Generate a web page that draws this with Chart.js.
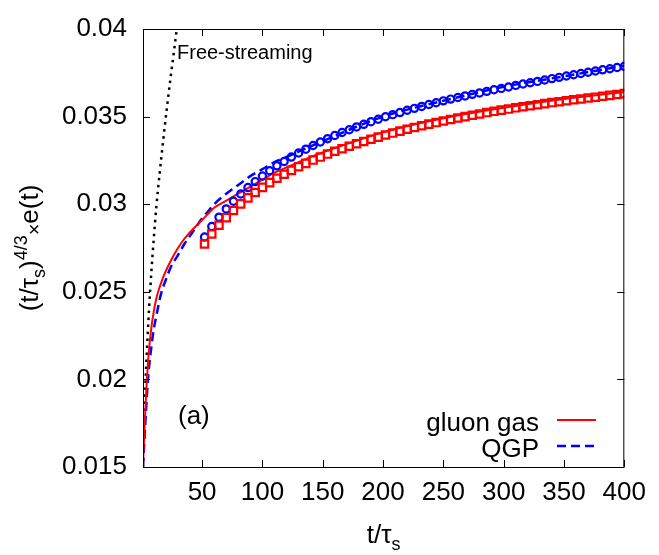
<!DOCTYPE html>
<html lang="en">
<head>
<meta charset="UTF-8">
<title>(t/τs)^4/3 × e(t) vs t/τs</title>
<script src="https://cdn.jsdelivr.net/npm/chart.js@4.4.1/dist/chart.umd.min.js"></script>
<style>
  html, body { margin: 0; padding: 0; background: #fff; }
</style>
</head>
<body>
<canvas id="myChart" width="659" height="555"></canvas>
<script>
// marker series (gluon gas = squares, QGP = circles)
const tPoints = [52, 58, 64, 70, 76, 82, 88, 94, 100, 106, 112, 118, 124, 130, 136, 142, 148, 154, 160, 166,
  172, 178, 184, 190, 196, 202, 208, 214, 220, 226, 232, 238, 244, 250, 256, 262, 268, 274, 280, 286,
  292, 298, 304, 310, 316, 322, 328, 334, 340, 346, 352, 358, 364, 370, 376, 382, 388, 394, 400];
const gluonPoints = [0.02773, 0.02830, 0.02880, 0.02923, 0.02964, 0.03002, 0.03036, 0.03067, 0.03096, 0.03123,
  0.03148, 0.03171, 0.03193, 0.03214, 0.03233, 0.03252, 0.03269, 0.03286, 0.03302, 0.03317,
  0.03331, 0.03345, 0.03358, 0.03371, 0.03383, 0.03395, 0.03406, 0.03417, 0.03428, 0.03438,
  0.03448, 0.03457, 0.03466, 0.03475, 0.03484, 0.03492, 0.03500, 0.03508, 0.03515, 0.03523,
  0.03530, 0.03537, 0.03543, 0.03550, 0.03556, 0.03562, 0.03568, 0.03574, 0.03580, 0.03585,
  0.03591, 0.03596, 0.03601, 0.03606, 0.03611, 0.03616, 0.03621, 0.03626, 0.03631];
const qgpPoints = [0.02813, 0.02873, 0.02926, 0.02973, 0.03017, 0.03058, 0.03095, 0.03129, 0.03161, 0.03191,
  0.03219, 0.03244, 0.03269, 0.03292, 0.03314, 0.03335, 0.03355, 0.03374, 0.03392, 0.03409,
  0.03425, 0.03441, 0.03456, 0.03471, 0.03485, 0.03499, 0.03511, 0.03523, 0.03536, 0.03547,
  0.03558, 0.03569, 0.03579, 0.03590, 0.03600, 0.03609, 0.03618, 0.03627, 0.03635, 0.03644,
  0.03653, 0.03661, 0.03669, 0.03678, 0.03686, 0.03693, 0.03701, 0.03709, 0.03717, 0.03724,
  0.03732, 0.03739, 0.03746, 0.03753, 0.03760, 0.03767, 0.03773, 0.03780, 0.03787];

// curves
const tGluonCurve = [1, 1.5, 2, 3, 4, 5, 6, 8, 10, 12, 14, 17, 20, 25, 30, 35, 40, 45, 50, 55, 60,
  70, 80, 90, 100, 110, 120, 130, 140, 160, 200, 250, 300, 350, 400];
const gluonCurve = [0.0150, 0.0160, 0.0168, 0.0183, 0.0197, 0.0208, 0.0217, 0.0230, 0.0239, 0.0246, 0.0251,
  0.0257, 0.0262, 0.0269, 0.0275, 0.0280, 0.0284, 0.02876, 0.0291, 0.02945, 0.0298,
  0.0302, 0.0306, 0.0310, 0.0314, 0.0318, 0.0321, 0.0324, 0.0327, 0.0332, 0.0341, 0.0349, 0.0355, 0.0360, 0.0364];
const tQgpCurve = [1, 2, 3, 4, 5, 6, 8, 10, 12, 14, 16, 20, 24, 30, 35, 40, 45, 50, 55, 60,
  70, 80, 90, 100, 110, 120, 130, 150, 200, 250, 300, 350, 400];
const qgpCurve = [0.0150, 0.0163, 0.0176, 0.0188, 0.0199, 0.0207, 0.0219, 0.0229, 0.0236, 0.0243, 0.0249,
  0.0257, 0.0264, 0.0271, 0.0277, 0.0282, 0.0287, 0.0292, 0.0296, 0.0300,
  0.0306, 0.0311, 0.0316, 0.0320, 0.0324, 0.0327, 0.0330, 0.0336, 0.0350, 0.0359, 0.0367, 0.0373, 0.0379];
const tFree = [1, 2, 3, 4, 5, 6, 8, 10, 12, 15, 18, 21, 24, 27, 29];
const freeCurve = [0.0150, 0.0177, 0.0197, 0.0213, 0.0227, 0.0240, 0.0262, 0.0281, 0.0298, 0.0319,
  0.0338, 0.0356, 0.0373, 0.0389, 0.0400];

const xTicks = [50, 100, 150, 200, 250, 300, 350, 400];
const yTicks = [0.015, 0.02, 0.025, 0.03, 0.035, 0.04];
const yTickLabels = ['0.015', '0.02', '0.025', '0.03', '0.035', '0.04'];
const seriesNames = ['gluon gas', 'QGP'];

const FONT = '"Liberation Sans", Arial, sans-serif';
const RED = '#ff0000', BLUE = '#0000ff';

function pairs(xs, ys) {
  return xs.map((x, i) => ({ x: x, y: ys[i] }));
}

// draw a run of text pieces (with sub/superscripts) starting at x, baseline y
function drawPieces(ctx, pieces, x, y) {
  pieces.forEach(p => {
    ctx.font = p.size + 'px ' + FONT;
    ctx.fillText(p.t, x, y + (p.dy || 0));
    x += ctx.measureText(p.t).width;
  });
}
function piecesWidth(ctx, pieces) {
  let w = 0;
  pieces.forEach(p => { ctx.font = p.size + 'px ' + FONT; w += ctx.measureText(p.t).width; });
  return w;
}

const decor = {
  id: 'decor',
  afterDraw(chart) {
    const ctx = chart.ctx;
    const a = chart.chartArea;
    const xs = chart.scales.x, ys = chart.scales.y;
    ctx.save();
    // frame
    ctx.strokeStyle = '#000';
    ctx.lineWidth = 1;
    ctx.strokeRect(a.left + 0.5, a.top + 0.5, a.right - a.left - 1, a.bottom - a.top);
    // inward ticks on all four sides
    const tl = 7;
    ctx.beginPath();
    xTicks.forEach(v => {
      const px = Math.round(xs.getPixelForValue(v)) + 0.5;
      ctx.moveTo(px, a.bottom); ctx.lineTo(px, a.bottom - tl);
      ctx.moveTo(px, a.top); ctx.lineTo(px, a.top + tl);
    });
    yTicks.forEach(v => {
      const py = Math.round(ys.getPixelForValue(v)) + 0.5;
      ctx.moveTo(a.left, py); ctx.lineTo(a.left + tl, py);
      ctx.moveTo(a.right, py); ctx.lineTo(a.right - tl, py);
    });
    ctx.stroke();

    ctx.fillStyle = '#000';
    ctx.textBaseline = 'alphabetic';
    ctx.textAlign = 'left';

    // x title
    const xt = [{ t: 't/τ', size: 26 }, { t: 's', size: 18, dy: 7 }];
    drawPieces(ctx, xt, (a.left + a.right) / 2 - piecesWidth(ctx, xt) / 2, 543);

    // y title (rotated)
    const yt = [{ t: '(t/τ', size: 26 }, { t: 's', size: 18, dy: 7 }, { t: ')', size: 26 },
      { t: '4/3', size: 18, dy: -11 }, { t: '×', size: 20, dy: 3 }, { t: 'e(t)', size: 26 }];
    ctx.save();
    ctx.translate(38, (a.top + a.bottom) / 2);
    ctx.rotate(-Math.PI / 2);
    drawPieces(ctx, yt, -piecesWidth(ctx, yt) / 2, 0);
    ctx.restore();

    // annotations
    ctx.font = '20px ' + FONT;
    ctx.fillText('Free-streaming', 177, 59);
    ctx.font = '26px ' + FONT;
    ctx.fillText('(a)', 178, 424);

    // legend
    ctx.font = '26px ' + FONT;
    ctx.textAlign = 'right';
    const legendRows = [{ ds: 2, base: 431 }, { ds: 3, base: 457 }];
    legendRows.forEach((row, i) => {
      const ds = chart.data.datasets[row.ds];
      ctx.fillStyle = '#000';
      ctx.fillText(seriesNames[i], 539, row.base);
      ctx.strokeStyle = ds.borderColor;
      ctx.lineWidth = ds.borderWidth;
      ctx.setLineDash(ds.borderDash || []);
      ctx.beginPath();
      ctx.moveTo(557, row.base - 11);
      ctx.lineTo(596, row.base - 11);
      ctx.stroke();
    });
    ctx.restore();
  }
};

new Chart(document.getElementById('myChart'), {
  type: 'scatter',
  data: {
    datasets: [
      {
        label: 'gluon gas (points)',
        data: pairs(tPoints, gluonPoints),
        showLine: false,
        pointStyle: 'rect',
        pointRadius: 5.2,
        pointBorderWidth: 2.2,
        pointBorderColor: RED,
        pointBackgroundColor: 'rgba(0,0,0,0)'
      },
      {
        label: 'QGP (points)',
        data: pairs(tPoints, qgpPoints),
        showLine: false,
        pointStyle: 'circle',
        pointRadius: 3.6,
        pointBorderWidth: 2.2,
        pointBorderColor: BLUE,
        pointBackgroundColor: 'rgba(0,0,0,0)'
      },
      {
        label: 'gluon gas',
        data: pairs(tGluonCurve, gluonCurve),
        showLine: true,
        borderColor: RED,
        borderWidth: 2,
        pointRadius: 0,
        cubicInterpolationMode: 'monotone'
      },
      {
        label: 'QGP',
        data: pairs(tQgpCurve, qgpCurve),
        showLine: true,
        borderColor: BLUE,
        borderWidth: 2.5,
        borderDash: [9, 5],
        pointRadius: 0,
        cubicInterpolationMode: 'monotone'
      },
      {
        label: 'Free-streaming',
        data: pairs(tFree, freeCurve),
        showLine: true,
        borderColor: '#000',
        borderWidth: 2.5,
        borderDash: [2.5, 4.5],
        pointRadius: 0,
        cubicInterpolationMode: 'monotone'
      }
    ]
  },
  options: {
    responsive: false,
    animation: false,
    layout: { padding: { top: 13, right: 31, left: 0, bottom: 0 } },
    plugins: { legend: { display: false }, tooltip: { enabled: false } },
    scales: {
      x: {
        type: 'linear',
        min: 1,
        max: 400,
        afterBuildTicks: axis => { axis.ticks = xTicks.map(v => ({ value: v })); },
        afterFit: axis => { axis.height = 88; },
        grid: { display: false, drawTicks: false },
        border: { display: false },
        ticks: {
          autoSkip: false,
          maxRotation: 0,
          padding: 13,
          color: '#000',
          font: { family: FONT, size: 26, lineHeight: 1 }
        }
      },
      y: {
        type: 'linear',
        min: 0.015,
        max: 0.04,
        afterBuildTicks: axis => { axis.ticks = yTicks.map(v => ({ value: v })); },
        afterFit: axis => { axis.width = 143; },
        grid: { display: false, drawTicks: false },
        border: { display: false },
        ticks: {
          padding: 16,
          color: '#000',
          font: { family: FONT, size: 26, lineHeight: 1 },
          callback: (v, i) => yTickLabels[i]
        }
      }
    }
  },
  plugins: [decor]
});
</script>
</body>
</html>
